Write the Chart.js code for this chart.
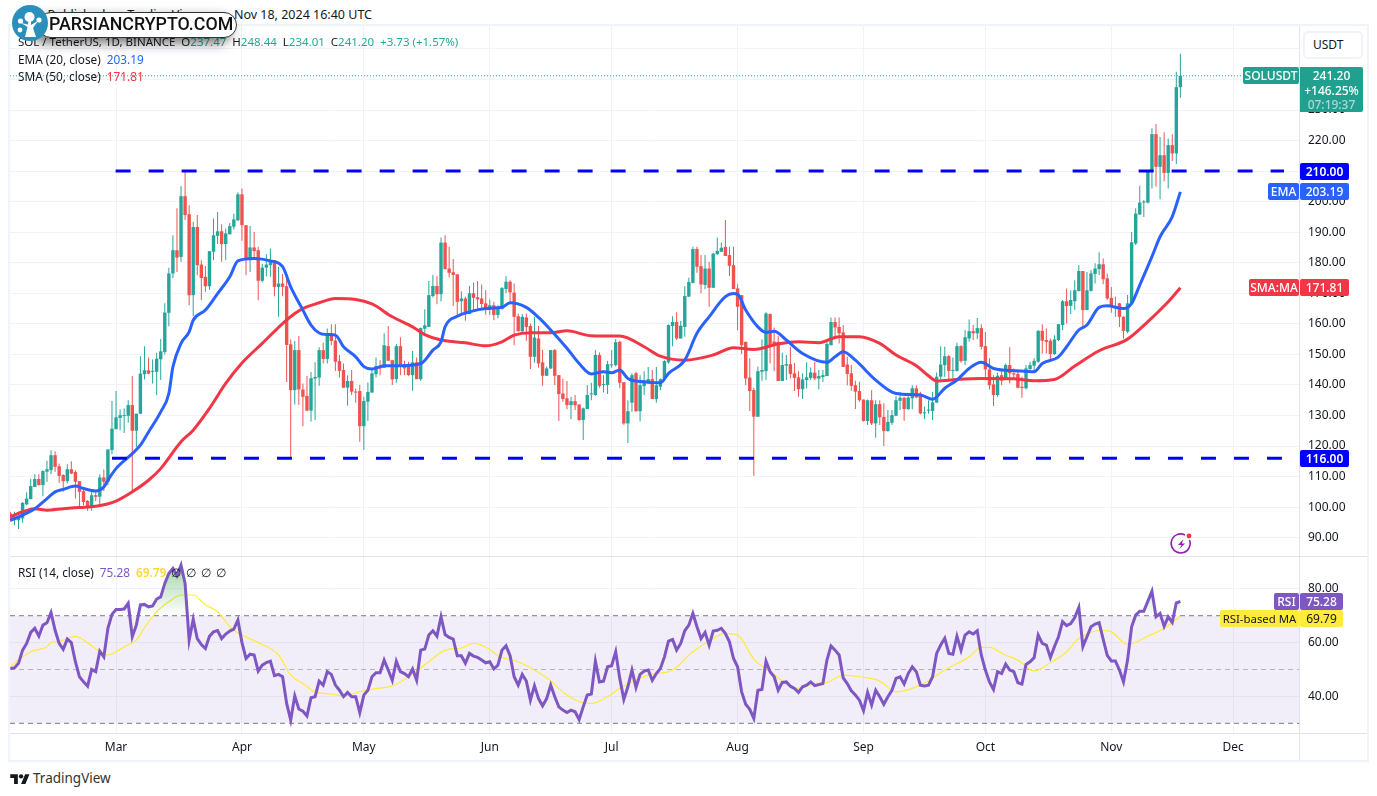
<!DOCTYPE html>
<html>
<head>
<meta charset="utf-8">
<script src="https://cdn.jsdelivr.net/npm/chart.js@4"></script>
<style>
    html, body { margin: 0; padding: 0; background: #fff; width: 1377px; height: 796px; overflow: hidden; }
    body { font-family: "Noto Sans", sans-serif; font-size: 12px; color: #131722; }
    canvas { position: absolute; left: 10px; }
    #priceChart { top: 26px; }
    #rsiChart { top: 556px; }
    .abs { position: absolute; white-space: nowrap; }
    .frame { position: absolute; background: #f0f3fa; }
    .sep { position: absolute; background: #e0e3eb; }
    .tag { position: absolute; height: 17px; line-height: 17px; color: #fff; text-align: center; font-size: 12px; font-weight: 500; border-radius: 2px; white-space: nowrap; }
    .legend { position: absolute; left: 18px; font-size: 11.8px; white-space: nowrap; line-height: 16px; }
    .legend span { margin-left: 6px; }
    .legend b { font-weight: 400; color: #22ab94; }
</style>
</head>
<body>
<canvas id="priceChart" width="1357" height="530"></canvas>
<canvas id="rsiChart" width="1357" height="204"></canvas>

<div class="frame" style="left:8px;top:24px;width:1361px;height:2px"></div>
<div class="frame" style="left:8px;top:760px;width:1361px;height:2px"></div>
<div class="frame" style="left:8px;top:24px;width:2px;height:738px"></div>
<div class="frame" style="left:1367px;top:24px;width:2px;height:738px"></div>
<div class="sep" style="left:10px;top:556px;width:1357px;height:1px"></div>
<div class="sep" style="left:10px;top:733px;width:1357px;height:1px"></div>
<div class="sep" style="left:1299px;top:26px;width:1px;height:734px"></div>

<div class="abs" style="right:1005px;top:6px;font-size:12.5px">Published on TradingView.com, Nov 18, 2024 16:40 UTC</div>

<div class="legend" style="top:34px;font-size:11.5px">SOL / TetherUS, 1D, BINANCE &nbsp;O<b>237.47</b> &nbsp;H<b>248.44</b> &nbsp;L<b>234.01</b> &nbsp;C<b>241.20</b> &nbsp;<b>+3.73 (+1.57%)</b></div>
<div class="legend" style="top:51px">EMA (20, close)<span style="color:#2962ff">203.19</span></div>
<div class="legend" style="top:68px">SMA (50, close)<span style="color:#f23645">171.81</span></div>
<div class="legend" style="top:564px">RSI (14, close)<span style="color:#7e57c2">75.28</span><span style="color:#fdd835;font-weight:600">69.79</span><span style="margin-left:5px">∅</span><span style="margin-left:5px">∅</span><span style="margin-left:5px">∅</span><span style="margin-left:5px">∅</span></div>

<!-- watermark -->
<div class="abs" style="left:38px;top:12px;width:197px;height:24px;background:#fff;border:1px solid #333;border-radius:13px;box-shadow:-6px 5px 12px rgba(0,0,0,.55)"></div>
<div class="abs" style="left:49px;top:11px;font:500 17.8px/26px Roboto,sans-serif;color:#111">PARSIANCRYPTO.COM</div>
<svg class="abs" style="left:12px;top:5px" width="36" height="36" viewBox="0 0 36 36">
    <circle cx="18" cy="18" r="18" fill="#2b8fbd"/>
    <g fill="#fff">
        <circle cx="17.5" cy="12" r="5"/><circle cx="8.5" cy="16" r="2.6"/><circle cx="27" cy="15" r="2.6"/><circle cx="8" cy="25" r="2.4"/>
        <path d="M13 32 L15.5 22 L9 18 L16 19.5 L16.5 14 L19 14 L19 20 L26 16 L21 23 L24 32 Z"/>
    </g>
</svg>

<!-- price axis tags -->
<div class="abs" style="left:1303px;top:31px;height:24px;border:2px solid #f0f3fa;border-radius:5px;line-height:24px;padding-left:8px;width:48px;font-size:12px;background:#fff">USDT</div>
<div class="tag" id="tagSym" style="left:1243px;width:56px;background:#22a08f">SOLUSDT</div>
<div class="abs" id="tagLast" style="left:1300px;width:63px;height:45px;background:#22a08f;color:#fff;text-align:center;font-size:12px;line-height:14.5px;padding-top:1px;border-radius:0 2px 2px 0;box-sizing:border-box;font-weight:500">241.20<br>+146.25%<br><span style="opacity:.6">07:19:37</span></div>
<div class="tag" id="tagRes" style="left:1300px;width:49px;background:#0000ff;font-weight:600">210.00</div>
<div class="tag" id="tagSup" style="left:1300px;width:49px;background:#0000ff;font-weight:600">116.00</div>
<div class="tag" id="tagEmaName" style="left:1268px;width:31px;background:#2962ff">EMA</div>
<div class="tag" id="tagEma" style="left:1300px;width:49px;background:#2962ff">203.19</div>
<div class="tag" id="tagSmaName" style="left:1249px;width:50px;background:#f23645">SMA:MA</div>
<div class="tag" id="tagSma" style="left:1300px;width:49px;background:#f23645">171.81</div>
<div class="tag" id="tagRsiName" style="left:1274px;width:25px;background:#7e57c2">RSI</div>
<div class="tag" id="tagRsi" style="left:1300px;width:43px;background:#7e57c2">75.28</div>
<div class="tag" id="tagMaName" style="left:1220px;width:79px;background:#ffeb3b;color:#131722;font-weight:400;font-size:11.4px">RSI-based MA</div>
<div class="tag" id="tagMa" style="left:1300px;width:43px;background:#ffeb3b;color:#131722;font-weight:400">69.79</div>

<!-- bolt icon -->
<svg class="abs" style="left:1170px;top:532px" width="24" height="24" viewBox="0 0 24 24">
    <path d="M19.5 8 A9.5 9.5 0 1 1 15 3" fill="none" stroke="#8e24aa" stroke-width="1.6"/>
    <path d="M13.5 7 L8 13 L11.5 13 L9.5 17 L15 11.5 L11.8 11.5 Z" fill="#8e24aa"/>
    <circle cx="19" cy="4" r="2.4" fill="#f23645"/>
</svg>

<!-- TradingView footer -->
<svg class="abs" style="left:10px;top:772px" width="20" height="13" viewBox="0 0 36 24">
    <path d="M14 22H7V11H0V4h14v18zM28 22h-8l7.5-18h8L28 22z" fill="#131722"/>
    <circle cx="20" cy="8" r="4" fill="#131722"/>
</svg>
<div class="abs" style="left:33px;top:769px;font-size:13.5px;color:#333">TradingView</div>

<script>
// daily candles, Feb 4 to Nov 18 2024
const opens = [
    97.9,95.7,95.7,96.3,100.9,102.6,106.6,109.2,107.2,111.6,
    112.1,117,113.4,110.5,108.5,112.4,111.5,108.5,105.2,102,
    99.8,103.9,103.4,109.7,108.3,118.7,125.5,129.2,129.8,129.9,
    133.4,125,130.6,143.5,144.8,144.3,144.3,148.4,150.8,163.6,
    176.5,184.1,181.9,201.8,195.9,169.4,191.7,179.4,175.4,172.3,
    183.6,188.8,190.3,186.1,189.3,191.8,193.9,202.4,192.3,181.1,
    185,184.1,174.1,178.4,179.2,180.8,172.1,173.2,172.3,153.3,
    138.3,151.4,138.5,136.4,131.6,142.1,142.4,151.4,148.5,156.9,
    154.5,147.8,144.9,139.1,141.3,137.7,138,126.5,134.5,137.5,
    143.5,146.2,145.6,152.7,148.1,141.9,152.7,146.8,146,143.2,
    147.4,141.9,158.4,159,169.1,172.4,169.7,186.6,178.1,176.9,
    176.2,167.4,168.3,163.2,170,168.7,168.3,166.7,165.4,166.1,
    162.9,164.8,171.4,173.8,170.2,162.5,157.6,162.1,159.3,149.2,
    155.2,147.4,143,145.4,151.4,143.2,137.2,135.6,133.4,134.7,
    133.6,128.5,132.1,136.9,136.7,149.8,140,140,146.4,146.5,
    154.1,140.9,127.4,134.2,143.8,131.4,139.6,140.5,141.9,135.4,
    139.4,141.9,147.4,159.3,160.6,155.2,159,168.9,173.4,184.5,
    178.9,172.7,178.1,171.8,182.8,183.6,185.2,182.5,179.2,171.6,
    169.4,154.1,142.4,138.3,129.6,144.3,144.5,163.2,154.2,154.1,
    141.3,146.3,146.8,143.8,142.5,138.6,141.6,142.3,144,142.1,
    142.6,142.9,153,160.6,159,157.2,146.7,143.8,139.9,138,
    135.2,128.2,135,127.4,133.7,129.5,124.9,127.6,129.9,134.8,
    135.8,132.1,135.6,138.9,137.2,130.7,131.6,131.5,134.2,142.7,
    146.5,149.4,144.6,144.6,152.7,147.9,155.2,157.6,156.9,158.6,
    152.7,145.1,140.2,136.7,143.2,142.1,146.5,143.8,143.6,139.4,
    138.9,145.2,146.3,147.6,157.7,154.7,154.5,150.1,154.7,159.6,
    167.4,165.9,167.4,170.7,177.3,164.5,170.8,176.3,177.9,179.5,
    174.9,168.5,165.3,166.7,162.3,157.4,166.7,186.3,195.8,199.7,
    199.7,209.8,222.1,211.4,215.2,209.4,218.5,215.8,237.47
];
const highs = [
    98.5,98.5,96.8,101.7,104.9,109.2,110.8,110.8,112.1,115.2,
    118.6,118.3,114.3,110.8,114,115,112.1,108.5,106.6,102.3,
    105,105,110.8,112.3,118.9,134.7,138,132,132.3,135,
    142.9,130.6,149.4,152.7,149,148.3,150.5,155,166.7,178.4,
    189,197.8,205,210.3,198.8,193.4,195.6,180.8,178.9,183.8,
    194.5,196.6,192.6,191.2,193,196,203,204.3,192.3,192,
    190.1,185.2,179.7,182.8,184.7,180.8,178.7,176.3,175.8,154.9,
    154.4,156,140.5,142.9,144.2,147.4,152.3,153.8,158.5,159.9,
    159.9,149.8,147,143.2,144.9,138.8,140,136.1,140.8,145.1,
    149,148.1,156.9,159.3,148.1,153.4,155.6,147.9,147.6,151.1,
    149,158.8,164.8,174,176,175.6,188.3,189,185.2,181.2,
    176.2,170.7,168.9,172.4,173.5,174,172.9,171,168,167.2,
    166.1,172.1,175.6,174.3,173.2,163.4,163.2,163.4,160.1,162.3,
    159.3,151.4,146,151.4,151.8,143.2,142,141.3,136.1,136.7,
    133.6,132.6,140,140.7,151.4,150.6,143.2,147.9,151.4,155,
    154.5,140.9,135,143.8,144.3,143.2,144.5,145.9,144.9,145.9,
    142.1,148.1,159.8,162.5,163.8,160.9,172.3,175.1,185.2,185.2,
    182.5,182.5,180.3,183.3,188.3,186.6,194,185.2,185.2,173,
    169.4,154.1,148.7,139.1,146,154.9,163.8,163.4,158.8,156,
    150.5,149.8,152.5,147.2,144.5,143.8,147.4,145.7,147.5,144.9,
    144.9,154.1,162.1,162.1,162.1,159.6,149.2,146.5,141.4,141,
    135.2,135.2,138.3,135,135,134,131.8,131.8,136.3,137.8,
    136.1,136.7,139.9,139.9,137.8,132.9,135,137.7,144.1,152.7,
    152.5,149.8,149,153.8,153,158,161.4,159.6,161.9,159.9,
    157.3,148.7,143.2,144.1,144.9,147,152.3,145.4,145.1,142.7,
    146.5,147.6,148.7,157.9,159.9,158.5,155.2,156.3,159.9,167.8,
    171.6,171,174.3,179.2,177.3,177,177.6,179.8,183.4,181.4,
    176.5,172.1,168.9,166.9,162.5,169.4,190.1,197.8,205.2,200.5,
    210.3,224,225.4,221.2,222.7,220.7,222.1,242.5,248.44
];
const lows = [
    95.2,94.1,92.8,94.9,100.6,102.6,106.6,107.2,103.6,108.3,
    110.8,111.6,108,105,107.7,110.8,102.8,100.3,100.6,98.8,
    98.8,102,100.3,105.3,107.2,117.3,125.5,125.2,124.3,127.6,
    105.3,119.7,130.4,141.8,143.5,140.5,136.7,141.6,150,159.2,
    175,177,180.3,194,166.1,162.5,175.9,167.7,170.5,171.2,
    180.8,186.1,180.3,180.8,189.3,190.9,193.7,187.2,175.9,177,
    181.7,167.7,173.5,175.6,175.4,169,162.3,169,141,116,
    133.6,133.4,126.5,131.5,128,128.5,139.7,147,147,153,
    144.6,142.4,139.1,133.2,136.7,134.2,121.4,118.7,128.2,137.5,
    142.4,143.2,145.6,147.9,140,140.7,143.2,143.2,143,138.1,
    141.9,141.3,156.9,159,168.6,166.4,167.4,177.9,175.2,165.8,
    162.9,163.4,161,163.2,164.5,164.5,164.5,163,163,161.2,
    161.8,164.8,170,166.7,153,157.4,156.9,154.5,145.2,147.3,
    145.6,139.7,143,145.2,140,128.2,134.5,132,128.8,131.8,
    128.3,122,132.1,135,136.5,139.1,137.5,137,145.6,146,
    138.9,127,121,131.2,131.2,128,136.7,140.5,135.4,134.2,
    138.3,141.2,147,152.7,154.7,155.2,155.8,168.8,173.2,176.7,
    170,171.3,165.6,171.8,182.5,183.6,182.2,175.7,171.4,157.9,
    150.1,139.9,131.5,110.3,129.6,141.4,141.6,147,144.6,141.3,
    141.3,141.6,142.1,138,136.1,135.4,138.9,141.6,141.5,138.6,
    141,142.9,153,155.2,153.6,145.9,139.9,138.1,132.1,134.5,
    128,126.9,126.9,122.7,126.9,120,124.7,126.9,129.9,131.8,
    128.3,131.8,132,135.6,130.4,128.8,130.6,128.5,134.2,141.8,
    142.7,141.6,142.1,144.3,147.3,146.5,154.1,154.7,155,151.6,
    142.7,138.5,133.1,136.1,140,141.8,140.5,141.6,138.9,135.8,
    138.5,144.3,144.3,147.3,150.3,150.3,147.6,149.8,154.4,158,
    160.1,163.2,164.5,170.7,159,164.5,170.5,173.2,176,173,
    167.8,163.6,162.3,159,155.2,156.9,166.5,185.8,195.6,195,
    199.4,204.3,204.9,200.8,206.7,204.3,213.3,212.3,234.01
];
const closes = [
    95.7,96.8,96.6,101.4,102.8,106.9,109.2,107.2,111.8,112.4,
    117,113.2,110.2,108.5,112.4,111,108.3,105,101.7,99.8,
    103.9,103.4,109.7,108.3,118.9,125.7,129.4,130.1,130,133.4,
    125,130.6,143.7,144.8,143.7,144.5,148.6,151,163.7,176.5,
    184.1,181.7,201.8,195.6,169.4,191.7,179.2,175,172.3,183.8,
    189,190.3,186.1,189.6,192,194.2,202.4,192.3,181.1,185,
    183.8,174.1,178.4,179.4,180.6,172.1,173.2,172.1,153.1,138.3,
    151.4,138.5,136.1,131.6,142.2,142.6,151.4,148.5,156.9,154.4,
    147.6,144.6,139.1,141.3,137.8,137.5,126.5,134.7,137.7,143.8,
    146.2,145.4,153,147.9,141.8,152.7,146,145.4,143.2,147.4,
    141.9,158.6,159.5,169.4,172.4,169.7,186.6,177.9,176.7,176,
    167.2,168.3,163.2,170,168.5,168,166.5,165.3,166.1,162.9,
    165.1,171.7,173.8,170.3,162.3,157.6,162.3,159,149.2,155.5,
    147,143,145.4,151.4,143,137,135.4,133.4,134.7,133.3,
    128.5,132.3,136.7,137,149.8,139.7,140.3,146.8,146.7,154,
    140.7,127.4,131.4,143.2,131.4,139.9,141.6,141.9,135.4,139.9,
    141.9,147.8,159.6,160.6,155.2,159.4,169.1,173.7,184.5,178.7,
    172.9,178.1,171.8,183,183.9,184.9,182.2,179,171.4,165.6,
    153,142.1,138,129.6,144.5,144.9,163.4,153,153,141.3,
    146.5,146.8,143.6,142.3,138.6,141.8,142.5,144.1,142.1,142.9,
    143.2,153.4,160.6,158.8,156.9,145.9,143.6,139.7,137.8,135,
    128.2,135,127.4,133.7,129.4,124.9,127.9,130.1,135,135.8,
    132.1,135.9,138.9,135.9,130.7,130.9,131.8,134.3,142.7,146.7,
    149.4,144.6,144.9,152.7,147.8,155.6,157.6,156.9,158.6,152.5,
    145.1,139.9,136.7,143,141.4,146.5,143.8,143.4,139.1,139,
    145.4,146.5,147.9,157.7,154.5,154.1,150.1,154.9,159.9,167.4,
    165.8,167.8,171,177.3,164.5,171,176.5,178.1,179.5,174.6,
    168.3,165.6,165.8,162.3,157.7,166.7,186.7,196.1,199.7,199.9,
    209.8,222.1,211.4,215.2,209.4,218.5,215.8,237.5,241.20
];

const emaDays = [0,3,6,9,11,13,16,18,21,23,24,26,30,32,34,37,39,40,42,44,45,48,51,54,56,60,64,67,69,72,74,76,78,80,82,85,87,89,92,96,101,104,106,107,110,113,117,121,123,127,130,133,137,140,143,146,148,150,152,156,160,162,166,169,172,176,178,179,181,184,186,188,191,195,201,203,205,208,213,218,224,227,230,233,236,239,242,248,252,254,258,260,263,265,268,270,274,276,278,281,283,286,288];
const emaValues = [95.7,97.4,99.5,102.8,105,105.8,106.9,106.1,105.3,106.6,108.8,112.6,117.5,120.3,124.6,131.2,137.2,145.9,153.6,157.4,161.2,164.5,169.9,175.4,180.6,181.4,180.6,178.7,172.1,164.5,159.6,157,156.5,156.3,152.5,149.2,146,145.2,146.3,146.3,147,151.4,154.1,159,162.5,163.9,165,165.4,166.9,165.4,162.1,158,152,147,143.6,144.3,144,144.9,142.1,141,140.7,143.8,148.1,156.9,162.3,168.9,169.9,169.7,164.5,159,157.2,157.6,154.7,150.3,147.4,149.2,150.9,148.1,141.6,137.2,136.7,135.3,138.9,141.6,145.4,147.4,145.4,144.6,144.3,147,149.2,152.5,158,159.6,165.4,165.9,165,166.7,172.7,182,188.5,195.1,203.19];

const smaDays = [0,3,6,9,13,17,21,26,30,34,37,42,45,49,53,57,62,67,70,72,76,80,85,89,94,99,102,106,112,117,121,124,128,133,137,143,148,150,156,160,166,173,178,183,189,194,199,204,209,214,218,223,226,228,233,239,247,252,257,262,268,275,280,285,288];
const smaValues = [96.8,98.5,99.5,99,99.5,99.9,100.3,102,105,108.8,112.6,121.4,125.2,132.3,140.5,147.2,153.6,160.1,163.4,165,166.9,168.3,168,166.5,162.3,159,156.5,154.7,153.8,152.8,154.1,156.3,157.1,157.1,157.7,156.1,156,156,152.5,149.4,148.1,149.8,152.2,151.6,153.4,154.1,153.8,155.8,155.8,153.6,149.8,146.3,143,141.3,141.8,142.1,142,141.4,141.8,146.2,151.2,155,160.7,167.2,171.81];

const rsiValues = [
    50.4,50.6,52.3,57.2,59.7,63.8,65.3,62.4,66.5,67.4,71.2,64.6,59.7,57.5,61.3,60,52.9,47.3,45.4,43.8,
    50,49.2,56.8,54.7,65.3,70.5,72.3,72.3,72.5,74.6,62.2,66.5,74,74.2,73.3,73.6,76.2,77,82,85.7,
    87.6,84.9,88.8,82,60.9,68.7,61.5,59.3,57.8,62.4,64,64.5,61.5,63.2,64.3,65,68.4,60,54.1,55.7,
    55.4,49.4,51.6,52.6,53.1,47.7,48.2,47.3,37.4,31.2,40.2,35.3,34.5,32.7,39.5,39.9,45.7,44.2,49.2,48.2,
    44.2,42.3,39.9,41.5,39.9,39.9,34,40.5,42.3,47.3,48.8,48.8,53.5,49.8,46,53.1,49.2,48.5,47.3,50.2,
    46,57.2,57.6,62.8,64.4,62.4,69.6,63,61.9,61.3,55.1,55.1,52.3,56,55,54.5,53.5,52.5,52.9,50.2,
    51.6,57.2,58.8,55.1,47.3,44.2,48.2,45.7,38.6,44,39.2,36.5,39.2,44.2,39.9,36.1,34.9,34,34.9,34.3,
    31.4,36.1,40.5,40.9,53.1,45.4,45.7,51,51.4,56.6,46.7,38.9,43.6,49.8,43.3,48.2,49.4,49.8,46,48.5,
    50.4,54.7,60.6,61.2,57.2,59.7,64.4,66.5,70.9,65.9,61.5,63.8,59,64.3,64.6,65.3,63.4,60.3,54.1,51,
    41.7,37.1,35.2,31.8,42.3,42.6,53.1,49.2,47.3,42.3,45.2,45.4,43.8,43,41.5,43.6,44.2,45.4,44,44.4,
    44.8,53.5,58.8,57.2,55.4,46.9,44.8,42.1,40.5,38.6,34.7,41.5,36.8,42.3,39.9,37.1,39.9,42.3,46.7,47.3,
    44.6,48.5,51,49.2,44.2,43.9,44.2,47.3,56,59.1,61.6,56,55.7,62.4,57.2,62.8,64,63.2,64.4,55.3,
    49.8,45.4,42.6,49.2,48.5,52,49.8,49.2,45.1,44.6,51.9,52.9,54.4,62.8,59.7,59.1,54.5,58.5,62.2,67.8,
    66.3,67.1,69.3,73.1,58.5,62.2,65.9,66.9,67.4,61.2,55.3,53.2,53.2,49.8,45.4,53.5,65.9,70.2,71.7,71.7,
    75.4,79.1,69.6,70.8,66.1,69.6,67.5,74.8,75.28
];
const rsiMaDays = [0,2,5,9,10,12,16,19,22,24,26,28,31,33,36,39,42,45,48,51,54,57,61,66,69,72,75,79,82,86,89,94,98,103,107,111,114,118,120,125,132,137,141,143,147,150,157,163,168,172,176,179,183,187,194,198,201,205,209,214,218,224,230,236,239,241,245,248,252,256,260,263,269,271,275,280,284,288];
const rsiMaValues = [51,53.5,56.6,58.5,60,60.5,62.2,60,56.6,55.4,56.6,58.4,60.9,65.5,71.5,75.2,77.7,77.7,74,71.5,65.9,62.8,60,55.4,47.9,44.8,41.7,40.9,40.2,41.7,42.7,43.9,47.3,52.9,57.2,58,59.7,57.5,55.1,52.9,46.9,40.5,37.6,37.4,39.9,43,47.9,49.8,56.6,60.6,63.4,62.8,53.9,49.2,43,44.8,45.2,47.9,47.3,45.7,41.7,44.2,49.8,54.7,58.2,58.2,55.3,53.5,49.5,52.5,56.6,61.5,64.6,64,59.4,62.4,65.3,69.79];

const priceTicks = [90,100,110,120,130,140,150,160,170,180,190,200,210,220,230,240,250];
const rsiTicks = [40,60,80];
const monthNames = ['Mar','Apr','May','Jun','Jul','Aug','Sep','Oct','Nov','Dec'];
const monthDays = [26,57,87,118,148,179,210,240,271,301];

const lastPrice = 241.20;
const resistance = 210;
const support = 116;
const resistanceDays = [25.9, 313.5];
const supportDays = [25, 313];
const ema = 203.19, sma = 171.81, rsiLast = 75.28, rsiMaLast = 69.79;

const upColor = '#26a69a';
const downColor = '#ef5350';
const gridColor = '#f0f3fa';
const fontFamily = '"Noto Sans", sans-serif';
const xMin = -0.1, xMax = 317.2;

function zip(days, values) {
    return days.map((d, i) => ({ x: d, y: values[i] }));
}

function monthAxis(showLabels) {
    return {
        type: 'linear',
        offset: false,
        min: xMin,
        max: xMax,
        border: { display: false },
        grid: { color: gridColor, drawTicks: false, offset: false },
        afterBuildTicks: axis => { axis.ticks = monthDays.map(v => ({ value: v })); },
        afterFit: axis => {
            axis.height = showLabels ? 27 : 0;
            axis.paddingLeft = 0;
            axis.paddingRight = 0;
        },
        ticks: {
            display: showLabels,
            autoSkip: false,
            maxRotation: 0,
            padding: 7,
            color: '#131722',
            font: { family: fontFamily, size: 12 },
            callback: v => monthNames[monthDays.indexOf(v)]
        }
    };
}

function valueAxis(min, max, tickValues) {
    return {
        position: 'right',
        min: min,
        max: max,
        border: { display: false },
        grid: { color: gridColor, drawTicks: false },
        afterBuildTicks: axis => { axis.ticks = tickValues.map(v => ({ value: v })); },
        afterFit: axis => {
            axis.width = 68;
            axis.paddingTop = 0;
            axis.paddingBottom = 0;
        },
        ticks: {
            padding: 9,
            color: '#131722',
            font: { family: fontFamily, size: 12 },
            callback: v => v.toFixed(2)
        }
    };
}

function createPriceChart() {
    const ctx = document.getElementById('priceChart').getContext('2d');
    const days = closes.map((c, i) => i);
    const colors = closes.map((c, i) => c >= opens[i] ? upColor : downColor);
    return new Chart(ctx, {
        type: 'bar',
        data: {
            datasets: [
                {
                    type: 'line', label: 'EMA (20, close)', data: zip(emaDays, emaValues),
                    borderColor: '#2962ff', borderWidth: 3, pointRadius: 0, cubicInterpolationMode: 'monotone', order: 1
                },
                {
                    type: 'line', label: 'SMA (50, close)', data: zip(smaDays, smaValues),
                    borderColor: '#f23645', borderWidth: 3, pointRadius: 0, cubicInterpolationMode: 'monotone', order: 1
                },
                {
                    type: 'line', label: 'Resistance', data: zip(resistanceDays, [resistance, resistance]),
                    borderColor: '#0000ff', borderWidth: 3, borderDash: [15, 18], pointRadius: 0, order: 0
                },
                {
                    type: 'line', label: 'Support', data: zip(supportDays, [support, support]),
                    borderColor: '#0000ff', borderWidth: 3, borderDash: [15, 18], pointRadius: 0, order: 0
                },
                {
                    type: 'line', label: 'Last', data: zip([xMin, xMax], [lastPrice, lastPrice]),
                    borderColor: '#22ab94', borderWidth: 1, borderDash: [1, 2], pointRadius: 0, order: 4
                },
                {
                    label: 'Body', data: days.map(i => ({ x: i, y: [opens[i], closes[i]] })),
                    backgroundColor: colors, barThickness: 3.4, minBarLength: 1, inflateAmount: 0, grouped: false, order: 2
                },
                {
                    label: 'Wick', data: days.map(i => ({ x: i, y: [lows[i], highs[i]] })),
                    backgroundColor: colors, barThickness: 1, inflateAmount: 0, grouped: false, order: 3
                }
            ]
        },
        options: {
            responsive: false,
            animation: false,
            layout: { padding: 0 },
            plugins: { legend: { display: false }, title: { display: false }, tooltip: { enabled: false } },
            scales: {
                x: monthAxis(false),
                y: valueAxis(84, 257.5, priceTicks)
            }
        }
    });
}

function createRsiChart() {
    const ctx = document.getElementById('rsiChart').getContext('2d');
    const fade = ctx.createLinearGradient(0, 6, 0, 60);
    fade.addColorStop(0, 'rgba(76,175,80,0.55)');
    fade.addColorStop(1, 'rgba(76,175,80,0)');
    return new Chart(ctx, {
        type: 'line',
        data: {
            datasets: [
                {
                    label: 'RSI', data: zip(rsiValues.map((v, i) => i), rsiValues),
                    borderColor: '#7e57c2', borderWidth: 3, pointRadius: 0, tension: 0,
                    fill: { target: { value: 70 }, above: fade, below: 'rgba(0,0,0,0)' }
                },
                {
                    label: 'RSI-based MA', data: zip(rsiMaDays, rsiMaValues),
                    borderColor: '#ffeb3b', borderWidth: 1.2, pointRadius: 0, cubicInterpolationMode: 'monotone'
                },
                {
                    label: 'Upper', data: zip([xMin, xMax], [70, 70]),
                    borderColor: '#787b86', borderWidth: 1, borderDash: [5, 4], pointRadius: 0,
                    fill: 4, backgroundColor: 'rgba(126,87,194,0.1)'
                },
                {
                    label: 'Middle', data: zip([xMin, xMax], [50, 50]),
                    borderColor: 'rgba(120,123,134,0.5)', borderWidth: 1, borderDash: [5, 4], pointRadius: 0
                },
                {
                    label: 'Lower', data: zip([xMin, xMax], [30, 30]),
                    borderColor: '#787b86', borderWidth: 1, borderDash: [5, 4], pointRadius: 0
                }
            ]
        },
        options: {
            responsive: false,
            animation: false,
            layout: { padding: 0 },
            plugins: { legend: { display: false }, title: { display: false }, tooltip: { enabled: false } },
            scales: {
                x: monthAxis(true),
                y: valueAxis(26.4, 92.2, rsiTicks)
            }
        }
    });
}

function placeTag(id, chart, value, canvasTop, nudge) {
    const el = document.getElementById(id);
    const y = chart.scales.y.getPixelForValue(value) + canvasTop;
    el.style.top = Math.round(y - 8.5 + (nudge || 0)) + 'px';
}

const priceChart = createPriceChart();
const rsiChart = createRsiChart();

placeTag('tagSym', priceChart, lastPrice, 26);
placeTag('tagLast', priceChart, lastPrice, 26);
document.getElementById('tagLast').style.paddingTop = '2px';
placeTag('tagRes', priceChart, resistance, 26);
placeTag('tagSup', priceChart, support, 26);
placeTag('tagEmaName', priceChart, ema, 26);
placeTag('tagEma', priceChart, ema, 26);
placeTag('tagSmaName', priceChart, sma, 26);
placeTag('tagSma', priceChart, sma, 26);
placeTag('tagRsiName', rsiChart, rsiLast, 556);
placeTag('tagRsi', rsiChart, rsiLast, 556);
placeTag('tagMaName', rsiChart, rsiMaLast, 556, 2);
placeTag('tagMa', rsiChart, rsiMaLast, 556, 2);
</script>
</body>
</html>
